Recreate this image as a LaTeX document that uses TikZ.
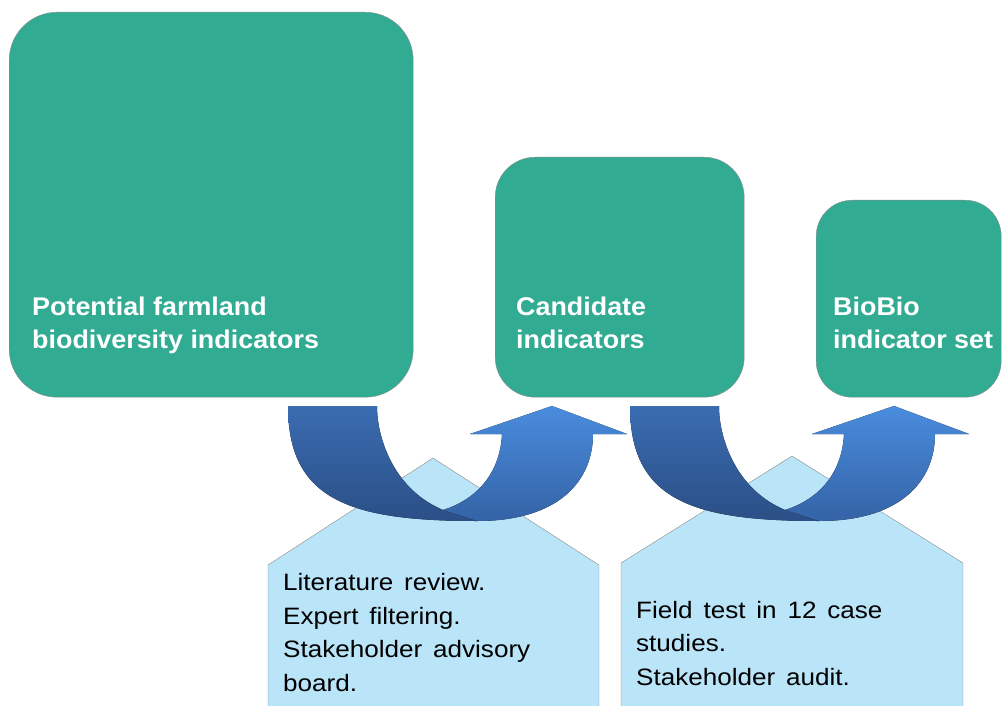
\documentclass[tikz,border=0pt]{standalone}
\usepackage{fontspec}
\setmainfont{Liberation Sans}
\newfontfamily\stagefont[FakeStretch=1.05]{Liberation Sans}
\newfontfamily\stepfont[FakeStretch=1.1, WordSpace=1.5]{Liberation Sans}
\definecolor{stagegreen}{HTML}{31AC93}
\definecolor{boxline}{HTML}{8C8C8C}
\definecolor{steplight}{HTML}{BAE4F8}
\definecolor{turndarktop}{HTML}{3A6CB1}
\definecolor{turndarkbot}{HTML}{2B4F86}
\definecolor{turnlighttop}{HTML}{4A8CDD}
\definecolor{turnlightbot}{HTML}{3463A6}

\begin{document}
\begin{tikzpicture}[x=1pt, y=-1pt,
    stage/.style={draw=boxline, fill=stagegreen, rounded corners=#1, inner sep=0pt, anchor=north west},
    stagelabel/.style={text=white, font=\stagefont\bfseries\fontsize{25.6}{33}\selectfont, align=left, anchor=base west, inner sep=0pt},
    steplabel/.style={font=\stepfont\fontsize{23.7}{33.5}\selectfont, align=left, anchor=base west, inner sep=0pt},
    stepbox/.style={draw=boxline, fill=steplight},
    turnin/.style={top color=turndarktop, bottom color=turndarkbot},
    turnout/.style={top color=turnlighttop, bottom color=turnlightbot}]
                        \useasboundingbox (0,0) rectangle (1002,706);
                        \clip (0,0) rectangle (1002,706);

                        \node[stage=48pt, minimum width=404pt, minimum height=385pt] (pool) at (9,12) {};
                        \node[stage=40pt, minimum width=249pt, minimum height=240pt] (cand) at (495,157) {};
                        \node[stage=36pt, minimum width=185pt, minimum height=197pt] (final) at (816,200) {};

                        \node[stagelabel] (poolText) at (32,348) {Potential farmland\\biodiversity indicators};
                        \node[stagelabel] (candText) at (516,348) {Candidate\\indicators};
                        \node[stagelabel] (finalText) at (833,348) {BioBio\\indicator set};

                        \draw[stepbox] (268,720) -- (268,565) -- (433,458) -- (599,565) -- (599,720) -- cycle;
                        \draw[stepbox] (621,720) -- (621,563) -- (792,456) -- (963,563) -- (963,720) -- cycle;

                        \foreach \dx in {0,342} {
                            \begin{scope}[xshift=\dx pt]
                                \fill[turnin] (288,406) -- (377,406) .. controls (377,440) and (395,490) .. (443,510)
                                    -- (477,521) .. controls (350,521) and (288,500) .. (288,406) -- cycle;
                                \fill[turnout] (443,510) -- (477,521) .. controls (560,521) and (593,480) .. (593,434)
                                    -- (627,434) -- (552,406) -- (470,434) -- (502,434)
                                    .. controls (500,475) and (475,500) .. (443,510) -- cycle;
                            \end{scope}
                        }

                        \node[steplabel] (reviewText) at (283,691) {Literature review.\\Expert filtering.\\Stakeholder advisory\\board.};
                        \node[steplabel] (fieldText) at (636,685) {Field test in 12 case\\studies.\\Stakeholder audit.};
\end{tikzpicture}
\end{document}
